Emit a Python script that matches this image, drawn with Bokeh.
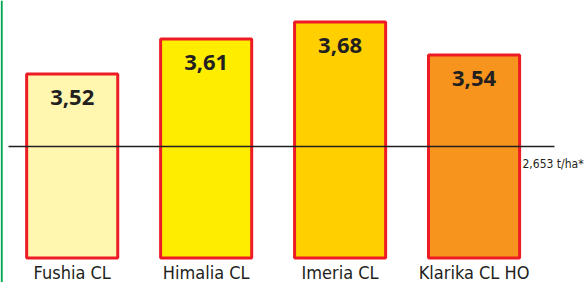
from bokeh.plotting import figure
from bokeh.models import Range1d, ColumnDataSource, Span
from bokeh.core.properties import value
from bokeh.embed import file_html
from bokeh.resources import INLINE

# ---- data ----
varieties = ["Fushia CL", "Himalia CL", "Imeria CL", "Klarika CL HO"]
yield_labels = ["3,52", "3,61", "3,68", "3,54"]
# drawn bar heights as they appear in the source graphic (not to scale)
bar_heights = [184, 219, 236, 203]
fills = ["#fff6b0", "#ffed00", "#ffcf00", "#f7941d"]
reference_level = 111.5
reference_label = "2,653 t/ha*"

idx = list(range(len(varieties)))

X0, X1 = -0.5353, 3.8246
p = figure(width=584, height=282, output_backend="svg", toolbar_location=None,
           x_range=Range1d(X0, X1), y_range=Range1d(-24.5, 257.5),
           min_border=0, outline_line_color=None)
p.xaxis.visible = False
p.yaxis.visible = False
p.grid.visible = False
p.background_fill_color = "white"

# green frame edge on the left side of the source graphic
p.add_layout(Span(location=X0 + 1.2 / 133.95, dimension="height",
                  line_color="#00a651", line_width=2))

src = ColumnDataSource(dict(x=idx, top=bar_heights, fill=fills,
                            lab=yield_labels, name=varieties))

p.vbar(x="x", top="top", bottom=0, width=0.68, source=src,
       fill_color="fill", line_color="#ed1c24", line_width=3)

# reference line
line_end = 3.6006
p.segment(x0=[-0.4756], y0=[reference_level], x1=[line_end], y1=[reference_level],
          line_color="#231f20", line_width=1.5)
p.text(x=[line_end], y=[reference_level], text=[reference_label],
       x_offset=-32, y_offset=17, text_align="left", text_baseline="middle",
       text_font=value("DejaVu Sans Condensed"), text_font_size="12px",
       text_color="#231f20")

# value labels
p.text(x="x", y="top", text="lab", source=src, y_offset=23.5,
       text_align="center", text_baseline="middle",
       text_font=value("Open Sans"), text_font_style="bold",
       text_font_size="22px", text_color="#231f20")

# category labels
p.text(x="x", y=0, text="name", source=src, y_offset=14,
       text_align="center", text_baseline="middle",
       text_font=value("DejaVu Sans Condensed"), text_font_size="18px",
       text_color="#231f20")

open("out.html", "w").write(file_html(p, INLINE))
